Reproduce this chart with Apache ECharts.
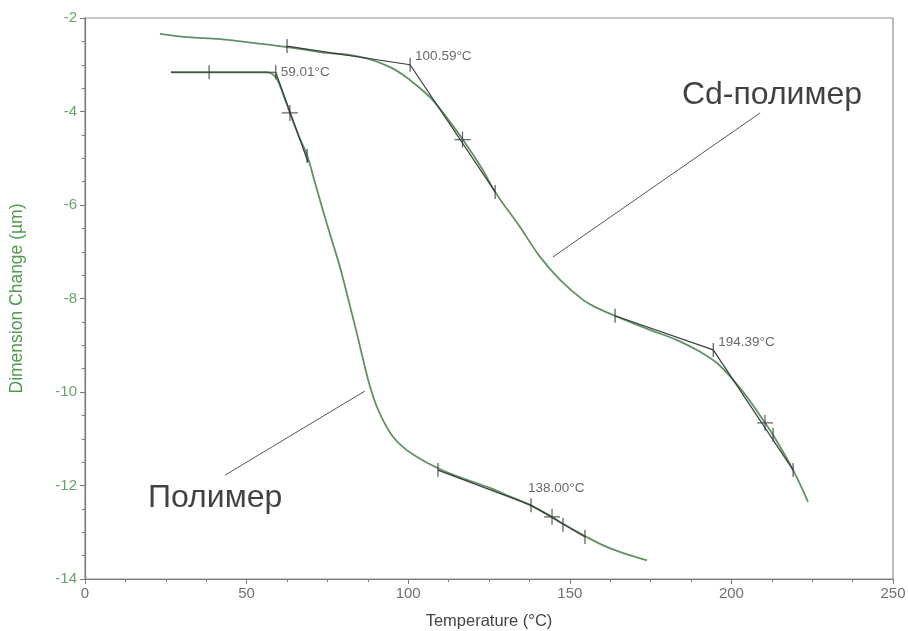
<!DOCTYPE html>
<html>
<head>
<meta charset="utf-8">
<script src="https://cdn.jsdelivr.net/npm/echarts@6/dist/echarts.min.js"></script>
<style>
  html, body { margin: 0; padding: 0; background: #fff; }
  #chart { width: 908px; height: 631px; }
</style>
</head>
<body>
<div id="chart"></div>
<script>
// Dilatometry curves: dimension change vs temperature
const xTicks = [0, 50, 100, 150, 200, 250];
const yTicks = [-14, -12, -10, -8, -6, -4, -2];

// Polymer curve
const polyT = [26.6, 40, 50, 56.3, 58.2, 59.7, 61.6, 63.4, 66, 68.7, 71, 73.6, 76, 78.9, 81.5, 84.1, 86.2, 88.2, 90.2, 92.2, 95, 98.4, 103, 108.9, 115, 125.3, 131, 137.7, 144.5, 147.9, 154.7, 160, 164.6, 170, 173.9];
const polyD = [-3.16, -3.16, -3.16, -3.16, -3.21, -3.35, -3.69, -4.03, -4.5, -4.93, -5.48, -6.11, -6.67, -7.33, -8.03, -8.74, -9.35, -9.89, -10.3, -10.6, -10.93, -11.18, -11.4, -11.62, -11.8, -12.05, -12.22, -12.42, -12.67, -12.82, -13.08, -13.27, -13.4, -13.52, -13.6];

// Cd-polymer curve
const cdT = [23.2, 31.6, 41.8, 52, 62.5, 72.7, 85.1, 94.4, 100.6, 106.7, 110.8, 117, 123.1, 126.9, 134.6, 140.8, 147, 154.1, 158.4, 164, 174.8, 183.2, 190.3, 195.5, 200.5, 204.8, 210.4, 212.9, 219.1, 223.7];
const cdD = [-2.34, -2.41, -2.45, -2.53, -2.62, -2.73, -2.83, -3.05, -3.33, -3.69, -4.03, -4.61, -5.25, -5.72, -6.47, -7.11, -7.6, -8.03, -8.2, -8.37, -8.67, -8.89, -9.14, -9.38, -9.74, -10.1, -10.66, -10.92, -11.67, -12.35];

// Tangent construction segments [T1, D1, T2, D2]
const polyTangents = [
  [26.6, -3.16, 59.01, -3.16],
  [59.01, -3.16, 69.0, -5.08],
  [109.2, -11.67, 138.0, -12.42],
  [138.0, -12.42, 154.7, -13.1]
];
const cdTangents = [
  [62.5, -2.6, 100.59, -3.0],
  [100.59, -3.0, 126.9, -5.72],
  [164.0, -8.37, 194.39, -9.1],
  [194.39, -9.1, 219.1, -11.67]
];

// Small vertical tick marks and crosses on the constructions
const tickMarks = [[38.4, -3.16], [59.01, -3.16], [68.7, -4.95], [109.2, -11.67], [138.0, -12.42], [147.9, -12.84], [154.7, -13.1],
                   [62.5, -2.6], [100.59, -3.0], [126.9, -5.72], [164.0, -8.37], [194.39, -9.1], [212.9, -10.92], [219.1, -11.67]];
const crossMarks = [[63.4, -4.03], [144.5, -12.67], [116.8, -4.6], [210.4, -10.66]];

// Onset temperature labels
const onsetT = [59.01, 100.59, 194.39, 138.0];
const onsetD = [-3.16, -3.0, -9.1, -12.42];
const onsetText = ['59.01°C', '100.59°C', '194.39°C', '138.00°C'];

// Curve names with leader lines
const leaderLines = [
  [144.8, -7.11, 208.9, -4.03],
  [86.6, -9.98, 43.3, -11.78]
];
const curveNames = ['Cd-полимер', 'Полимер'];
const curveNamePos = [[184.7, -3.65], [19.5, -12.27]];

const FONT = '"Liberation Sans", Arial, sans-serif';
const CURVE = '#5f9366';
const DARK = '#3c3c3c';

const zip = (a, b) => a.map((v, i) => [v, b[i]]);
const segSeries = (segs, color, width) => segs.map(s => ({
  type: 'line', data: [[s[0], s[1]], [s[2], s[3]]], symbol: 'none', silent: true,
  lineStyle: { color: color, width: width }, z: 4
}));

const plusPath = 'path://M7.4,0h1.2v7.4h7.4v1.2h-7.4v7.4h-1.2v-7.4h-7.4v-1.2h7.4z';

const labelOffsets = [[0, 0], [0, -8], [0, -8], [-8, -17]];

const option = {
  animation: false,
  grid: { left: 85, right: 15, top: 18, bottom: 52, outerBoundsMode: 'none', containLabel: false,
          show: true, borderColor: '#8c968c', borderWidth: 1.2 },
  xAxis: {
    type: 'value', min: xTicks[0], max: xTicks[xTicks.length - 1], interval: 50,
    name: 'Temperature (°C)', nameLocation: 'middle', nameGap: 34,
    nameTextStyle: { color: '#444', fontSize: 16.5, fontFamily: FONT },
    axisLine: { lineStyle: { color: '#7a7a7a', width: 1.2 } },
    axisTick: { show: true, inside: false, length: 5, lineStyle: { color: '#7a7a7a' } },
    minorTick: { show: true, splitNumber: 4, length: 3, lineStyle: { color: '#7a7a7a' } },
    axisLabel: { color: '#707070', fontSize: 15, fontFamily: FONT, margin: 7 },
    splitLine: { show: false }
  },
  yAxis: {
    type: 'value', min: yTicks[0], max: yTicks[yTicks.length - 1], interval: 2,
    name: 'Dimension Change (µm)', nameLocation: 'middle', nameGap: 59,
    nameTextStyle: { color: '#4f9a4f', fontSize: 17.5, fontFamily: FONT },
    axisLine: { show: true, lineStyle: { color: '#7a7a7a', width: 1.2 } },
    axisTick: { show: true, inside: false, length: 5, lineStyle: { color: '#7a7a7a' } },
    minorTick: { show: true, splitNumber: 4, length: 3, lineStyle: { color: '#7a7a7a' } },
    axisLabel: { color: '#6aa36a', fontSize: 15, fontFamily: FONT, margin: 8 },
    splitLine: { show: false }
  },
  series: [
    { type: 'line', data: zip(polyT, polyD), smooth: 0.4, symbol: 'none', lineStyle: { color: CURVE, width: 1.8 }, z: 3 },
    { type: 'line', data: zip(cdT, cdD), smooth: 0.4, symbol: 'none', lineStyle: { color: CURVE, width: 1.8 }, z: 3 },
    ...segSeries(polyTangents, DARK, 1.2),
    ...segSeries(cdTangents, DARK, 1.2),
    ...segSeries(leaderLines, '#555', 1),
    { type: 'scatter', data: tickMarks, symbol: 'rect', symbolSize: [1.3, 14], itemStyle: { color: DARK }, z: 5, silent: true },
    { type: 'scatter', data: crossMarks, symbol: plusPath, symbolSize: 16, itemStyle: { color: DARK }, z: 5, silent: true },
    {
      type: 'scatter', symbolSize: 0, z: 6, silent: true,
      data: onsetT.map((t, i) => ({
        value: [t, onsetD[i]],
        label: { show: true, formatter: onsetText[i], position: 'right', distance: 5, offset: labelOffsets[i],
                 color: '#444', fontSize: 13.5, fontFamily: FONT }
      }))
    },
    {
      type: 'scatter', symbolSize: 0, z: 6, silent: true,
      data: curveNamePos.map((p, i) => ({
        value: p,
        label: { show: true, formatter: curveNames[i], position: 'right', distance: 0,
                 color: '#111', fontSize: 32, fontFamily: FONT }
      }))
    }
  ]
};

const chart = echarts.init(document.getElementById('chart'), null, { renderer: 'canvas' });
chart.setOption(option);
</script>
</body>
</html>
